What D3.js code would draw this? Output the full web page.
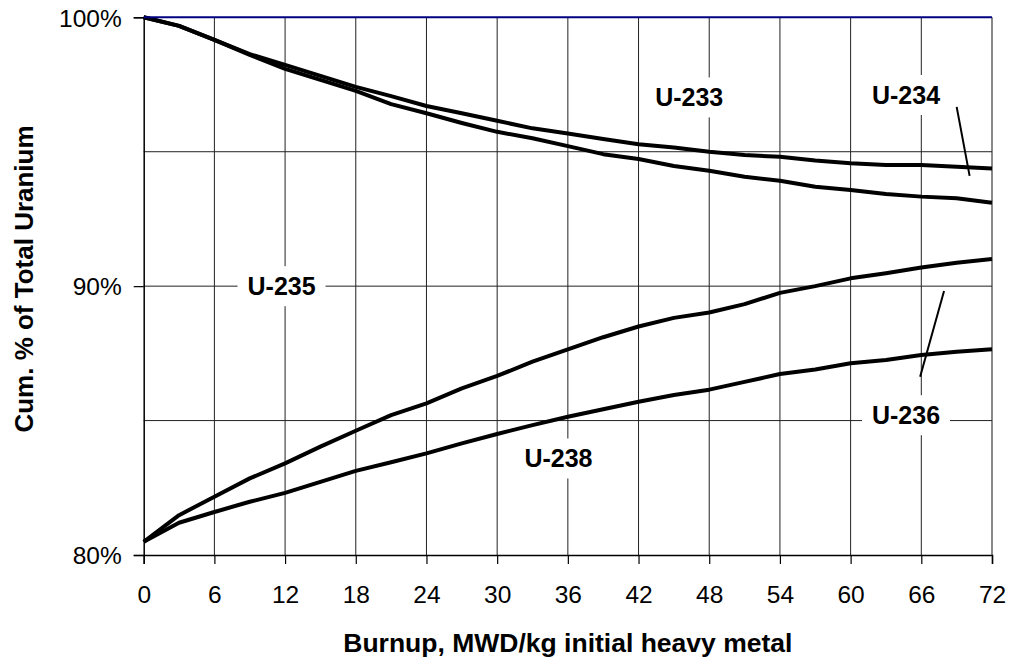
<!DOCTYPE html>
<html>
<head>
<meta charset="utf-8">
<script src="https://cdn.jsdelivr.net/npm/d3@7"></script>
<style>
  body { margin: 0; background: #fff; }
  svg { font-family: "Liberation Sans", Arial, sans-serif; }
</style>
</head>
<body>
<svg id="chart" width="1013" height="664"></svg>
<script>
// burnup points, MWD/kg
const burnup = [0, 3, 6, 9, 12, 15, 18, 21, 24, 27, 30, 33, 36, 39, 42, 45, 48, 51, 54, 57, 60, 63, 66, 69, 72];

// cumulative % of total uranium, stacked from the bottom
const cumU238 = [80.49, 81.2, 81.6, 81.98, 82.31, 82.72, 83.13, 83.45, 83.78, 84.15, 84.5, 84.83, 85.14, 85.42, 85.7, 85.95, 86.15, 86.44, 86.73, 86.9, 87.13, 87.25, 87.44, 87.56, 87.65];
const cumU236 = [80.49, 81.48, 82.17, 82.85, 83.41, 84.03, 84.62, 85.2, 85.64, 86.2, 86.66, 87.19, 87.65, 88.1, 88.5, 88.82, 89.02, 89.33, 89.75, 90.0, 90.29, 90.48, 90.69, 90.87, 91.01];
const cumU235 = [100, 99.68, 99.16, 98.6, 98.08, 97.67, 97.26, 96.77, 96.43, 96.07, 95.74, 95.5, 95.21, 94.91, 94.73, 94.47, 94.29, 94.07, 93.92, 93.7, 93.58, 93.43, 93.33, 93.27, 93.1];
const cumU234 = [100, 99.68, 99.16, 98.63, 98.23, 97.82, 97.41, 97.07, 96.7, 96.43, 96.15, 95.87, 95.68, 95.47, 95.28, 95.16, 95.0, 94.88, 94.81, 94.67, 94.57, 94.51, 94.51, 94.44, 94.38];
const cumU233 = [100, 100, 100, 100, 100, 100, 100, 100, 100, 100, 100, 100, 100, 100, 100, 100, 100, 100, 100, 100, 100, 100, 100, 100, 100];

const xTicks = [0, 6, 12, 18, 24, 30, 36, 42, 48, 54, 60, 66, 72];
const yTicks = [80, 90, 100];
const yGrid = [85, 90, 95];

// label text, anchor (burnup, %) and leader line ends
const labelNames = ["U-233", "U-234", "U-235", "U-236", "U-238"];
const labelX = [46.3, 64.7, 11.7, 64.7, 35.2];
const labelY = [97.02, 97.11, 90, 85.2, 83.59];
const leaders = [
  [[69.0, 96.67], [70.1, 94.1]],
  [[67.93, 89.82], [65.9, 86.63]],
];

const svg = d3.select("#chart");
const margin = { top: 17.3, right: 21, bottom: 109, left: 143.7 };
const width = 1013 - margin.left - margin.right;
const height = 664 - margin.top - margin.bottom;

const x = d3.scaleLinear().domain([0, 72]).range([0, width]);
const y = d3.scaleLinear().domain([80, 100]).range([height, 0]);

const g = svg
  .append("g")
  .attr("transform", `translate(${margin.left}, ${margin.top})`);

// grid
g.selectAll(".vgrid")
  .data(xTicks.slice(1))
  .enter()
  .append("line")
  .attr("x1", (d) => x(d))
  .attr("x2", (d) => x(d))
  .attr("y1", 0)
  .attr("y2", height)
  .attr("stroke", (d) => (d === 72 ? "#888" : "#222"))
  .attr("stroke-width", (d) => (d === 72 ? 2 : 1));

g.selectAll(".hgrid")
  .data(yGrid)
  .enter()
  .append("line")
  .attr("x1", 0)
  .attr("x2", width)
  .attr("y1", (d) => y(d))
  .attr("y2", (d) => y(d))
  .attr("stroke", "#222")
  .attr("stroke-width", 1);

// axes
const xAxis = g
  .append("g")
  .attr("transform", `translate(0, ${height})`)
  .call(d3.axisBottom(x).tickValues(xTicks).tickSize(9).tickPadding(22));
const yAxis = g
  .append("g")
  .call(
    d3
      .axisLeft(y)
      .tickValues(yTicks)
      .tickSize(10)
      .tickPadding(12)
      .tickFormat((d) => `${d}%`)
  );

[xAxis, yAxis].forEach((a) => {
  a.select(".domain").attr("stroke", "#000").attr("stroke-width", 1.5);
  a.selectAll(".tick line").attr("stroke", "#000").attr("stroke-width", 1.2);
  a.selectAll(".tick text")
    .attr("fill", "#000")
    .style("font-size", "24.5px")
    .style("font-family", "Liberation Sans, Arial, sans-serif");
});
yAxis.selectAll(".tick text").attr("dy", "0.36em");

// labels with white boxes over the grid
const labels = g
  .selectAll(".lbl")
  .data(labelNames)
  .enter()
  .append("g")
  .attr("transform", (d, i) => `translate(${x(labelX[i])}, ${y(labelY[i])})`);

labels
  .append("rect")
  .attr("x", -44)
  .attr("y", -20)
  .attr("width", 88)
  .attr("height", 40)
  .attr("fill", "#fff");

labels
  .append("text")
  .attr("text-anchor", "middle")
  .attr("dy", "0.36em")
  .style("font-size", "25px")
  .style("font-weight", "bold")
  .text((d) => d);

g.selectAll(".leader")
  .data(leaders)
  .enter()
  .append("line")
  .attr("x1", (d) => x(d[0][0]))
  .attr("y1", (d) => y(d[0][1]))
  .attr("x2", (d) => x(d[1][0]))
  .attr("y2", (d) => y(d[1][1]))
  .attr("stroke", "#000")
  .attr("stroke-width", 2);

// curves
const line = d3
  .line()
  .x((d, i) => x(burnup[i]))
  .y((d) => y(d));

[cumU238, cumU236, cumU235, cumU234].forEach((s) => {
  g.append("path")
    .attr("d", line(s))
    .attr("fill", "none")
    .attr("stroke", "#000")
    .attr("stroke-width", 4)
    .attr("stroke-linejoin", "round");
});

g.append("path")
  .attr("d", line(cumU233))
  .attr("fill", "none")
  .attr("stroke", "#000080")
  .attr("stroke-width", 2);

// titles
svg
  .append("text")
  .attr("x", margin.left + width / 2)
  .attr("y", 651.5)
  .attr("text-anchor", "middle")
  .style("font-size", "26.5px")
  .style("font-weight", "bold")
  .text("Burnup, MWD/kg initial heavy metal");

svg
  .append("text")
  .attr("transform", "translate(33, 279) rotate(-90)")
  .attr("text-anchor", "middle")
  .style("font-size", "26px")
  .style("font-weight", "bold")
  .text("Cum. % of Total Uranium");
</script>
</body>
</html>
